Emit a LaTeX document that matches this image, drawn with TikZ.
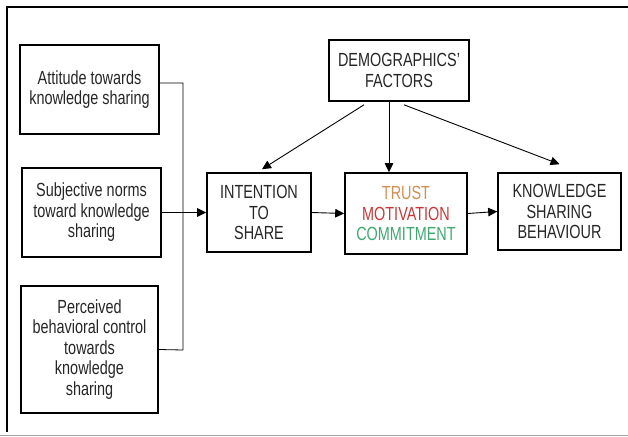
\documentclass[tikz,border=0pt]{standalone}
\usepackage{fontspec}
\setmainfont{Liberation Sans}[FakeStretch=0.76]
\usetikzlibrary{arrows.meta,calc}
\definecolor{trustcol}{HTML}{D09050}
\definecolor{motivcol}{HTML}{C83838}
\definecolor{commitcol}{HTML}{40A870}
\tikzstyle{block}=[
    draw, line width=1.6pt,
    align=center, inner sep=2pt,
    text=black!85,
    font=\fontsize{19}{20.5}\selectfont,
]
\tikzstyle{link}=[
    line width=0.9pt,
    -{Triangle[length=9pt,width=8.5pt]},
]

\begin{document}
\begin{tikzpicture}[x=1pt,y=-1pt]
    \useasboundingbox (0,0) rectangle (628,436);
    % frame
    \draw[line width=1.4pt] (7,432) -- (7,7) -- (628,7);
    \draw[gray!70,line width=1.2pt] (0,435.4) -- (628,435.4);
    % left column
    \node[block, minimum width=139pt, minimum height=89pt] (att) at (89.5,89.5) {Attitude towards\\knowledge sharing};
    \node[block, minimum width=139pt, minimum height=89pt] (sub) at (91.5,212.5) {Subjective norms\\toward knowledge\\sharing};
    \node[block, minimum width=137pt, minimum height=127pt] (pbc) at (89.5,349.5) {Perceived\\behavioral control\\towards\\knowledge\\sharing};
    % main row
    \node[block, minimum width=104pt, minimum height=79pt] (int) at (259,212.5) {INTENTION\\TO\\SHARE};
    \node[block, minimum width=140pt, minimum height=61pt] (dem) at (399,70.5) {DEMOGRAPHICS'\\FACTORS};
    \node[block, minimum width=122pt, minimum height=81pt] (tmc) at (406,213.5) {{\color{trustcol}TRUST}\\{\color{motivcol}MOTIVATION}\\{\color{commitcol}COMMITMENT}};
    \node[block, minimum width=123pt, minimum height=77pt] (ksb) at (559.5,211.5) {KNOWLEDGE\\SHARING\\BEHAVIOUR};
    % bracket
    \coordinate (join) at (183,350);
    \draw[line width=0.8pt] ([yshift=6.5pt]att.east) -| (join) -- (pbc.east);
    \draw[link, line width=1.4pt] (sub.east) -- (int.west);
    \draw[link] (int.east) -- (tmc.west);
    \draw[link] (tmc.east) -- (ksb.west);
    % demographics
    \draw[link] ([xshift=-35pt,yshift=-3pt]dem.south) -- ([xshift=3pt,yshift=3pt]int.north);
    \draw[link] ([xshift=-10pt]dem.south) -- ([xshift=-17pt]tmc.north);
    \draw[link] ([xshift=5pt,yshift=-3pt]dem.south) -- ([yshift=8pt]ksb.north);
\end{tikzpicture}
\end{document}
